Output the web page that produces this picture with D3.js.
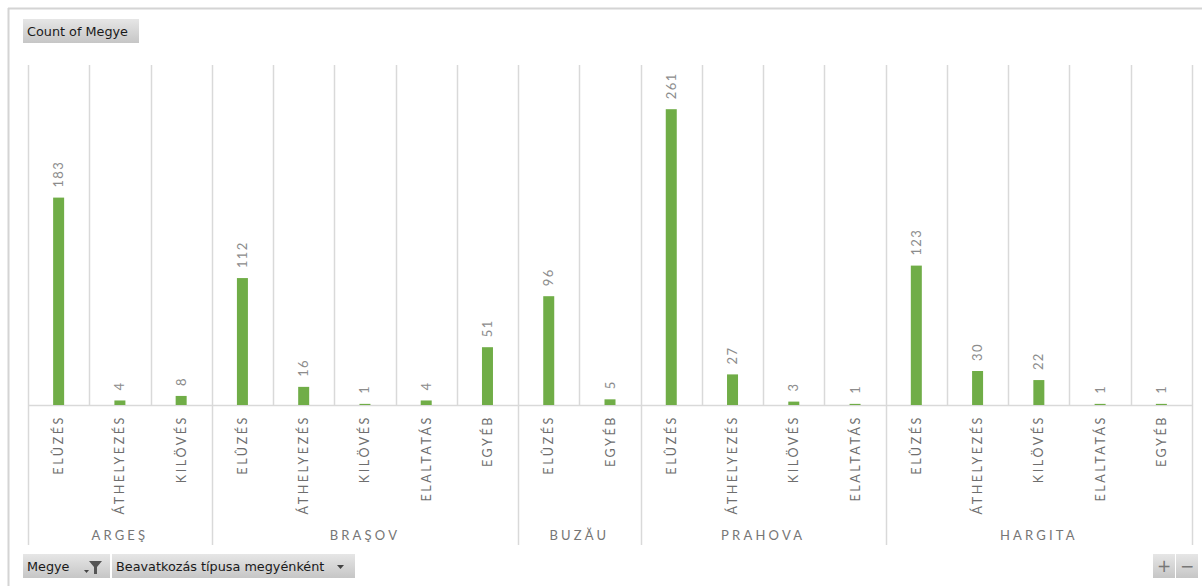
<!DOCTYPE html>
<html>
<head>
<meta charset="utf-8">
<script src="https://cdn.jsdelivr.net/npm/d3@7"></script>
<style>
  html, body { margin: 0; padding: 0; background: #fff; }
  svg { display: block; }
</style>
</head>
<body>
<svg id="chart"></svg>
<script>
// data
const groups = ["ARGEŞ", "BRAŞOV", "BUZĂU", "PRAHOVA", "HARGITA"];
const groupTypes = [
  ["ELÛZÉS", "ÁTHELYEZÉS", "KILÖVÉS"],
  ["ELÛZÉS", "ÁTHELYEZÉS", "KILÖVÉS", "ELALTATÁS", "EGYÉB"],
  ["ELÛZÉS", "EGYÉB"],
  ["ELÛZÉS", "ÁTHELYEZÉS", "KILÖVÉS", "ELALTATÁS"],
  ["ELÛZÉS", "ÁTHELYEZÉS", "KILÖVÉS", "ELALTATÁS", "EGYÉB"]
];
const groupCounts = [
  [183, 4, 8],
  [112, 16, 1, 4, 51],
  [96, 5],
  [261, 27, 3, 1],
  [123, 30, 22, 1, 1]
];
const yMax = 300;

const width = 1202, height = 586;
const plotLeft = 28, plotRight = 1192, plotTop = 65, baseY = 405, groupBottom = 545;
const gridColor = "#d9d9d9";
const barColor = "#70ad47";
const labelFont = "Lato, 'Open Sans', sans-serif";
const btnFont = "'DejaVu Sans', Verdana, sans-serif";

const svg = d3.select("#chart").attr("width", width).attr("height", height);

// flatten into rows
const rows = [];
groups.forEach((g, gi) => {
  groupTypes[gi].forEach((t, ti) => {
    rows.push({ id: gi + "-" + ti, group: g, type: t, value: groupCounts[gi][ti] });
  });
});

const x = d3.scaleBand().domain(rows.map(d => d.id)).range([plotLeft, plotRight]).paddingInner(0).paddingOuter(0);
const y = d3.scaleLinear().domain([0, yMax]).range([baseY, plotTop]);
const bw = x.bandwidth();
const barW = 11;

// outer frame
svg.append("line").attr("x1", 8).attr("x2", width).attr("y1", 8.5).attr("y2", 8.5)
  .attr("stroke", "#d4d4d4").attr("stroke-width", 2);
svg.append("line").attr("x1", 8.5).attr("x2", 8.5).attr("y1", 8).attr("y2", height)
  .attr("stroke", "#d4d4d4").attr("stroke-width", 2);

// vertical grid in plot area
const bounds = rows.map(d => x(d.id)).concat([plotRight]);
svg.append("g").selectAll("line").data(bounds).enter().append("line")
  .attr("x1", d => Math.round(d) + 0.5).attr("x2", d => Math.round(d) + 0.5)
  .attr("y1", plotTop).attr("y2", baseY)
  .attr("stroke", gridColor).attr("stroke-width", 1.5);

// group separators below axis
const groupStarts = [];
let k = 0;
groups.forEach((g, gi) => { groupStarts.push({ g, start: k, end: k + groupTypes[gi].length }); k += groupTypes[gi].length; });
const sepX = groupStarts.map(d => x(rows[d.start].id)).concat([plotRight]);
svg.append("g").selectAll("line").data(sepX).enter().append("line")
  .attr("x1", d => Math.round(d) + 0.5).attr("x2", d => Math.round(d) + 0.5)
  .attr("y1", baseY).attr("y2", groupBottom)
  .attr("stroke", gridColor).attr("stroke-width", 1.5);

// baseline
svg.append("line").attr("x1", plotLeft).attr("x2", plotRight).attr("y1", baseY + 0.5).attr("y2", baseY + 0.5)
  .attr("stroke", gridColor).attr("stroke-width", 1.5);

// bars
svg.append("g").selectAll("rect").data(rows).enter().append("rect")
  .attr("x", d => x(d.id) + bw / 2 - barW / 2)
  .attr("width", barW)
  .attr("y", d => y(d.value))
  .attr("height", d => Math.max(1, baseY - y(d.value)))
  .attr("fill", barColor);

// value labels
svg.append("g").selectAll("text").data(rows).enter().append("text")
  .attr("transform", d => `translate(${x(d.id) + bw / 2 + 4.5}, ${Math.min(y(d.value), baseY - 1) - 10}) rotate(-90)`)
  .attr("text-anchor", "start")
  .style("font-family", labelFont)
  .style("font-size", "13px")
  .style("letter-spacing", "1.4px")
  .style("fill", "#8c8c8c")
  .text(d => d.value);

// category labels
svg.append("g").selectAll("text").data(rows).enter().append("text")
  .attr("transform", d => `translate(${x(d.id) + bw / 2 + 4.5}, ${baseY + 10}) rotate(-90)`)
  .attr("text-anchor", "end")
  .style("font-family", labelFont)
  .style("font-size", "12.5px")
  .style("letter-spacing", "2.6px")
  .style("fill", "#6e6e6e")
  .text(d => d.type);

// group labels
svg.append("g").selectAll("text").data(groupStarts).enter().append("text")
  .attr("x", d => (x(rows[d.start].id) + (d.end < rows.length ? x(rows[d.end].id) : plotRight)) / 2)
  .attr("y", 540)
  .attr("text-anchor", "middle")
  .style("font-family", labelFont)
  .style("font-size", "13px")
  .style("letter-spacing", "3.2px")
  .style("fill", "#767676")
  .text(d => d.g);

// pivot field buttons
const defs = svg.append("defs");
const grad = defs.append("linearGradient").attr("id", "btnGrad").attr("x1", 0).attr("y1", 0).attr("x2", 0).attr("y2", 1);
grad.append("stop").attr("offset", "0%").attr("stop-color", "#e6e6e6");
grad.append("stop").attr("offset", "100%").attr("stop-color", "#c6c6c6");

function button(x0, y0, w, h, label) {
  const b = svg.append("g");
  b.append("rect").attr("x", x0).attr("y", y0).attr("width", w).attr("height", h).attr("fill", "url(#btnGrad)");
  if (label) {
    b.append("text").attr("x", x0 + 4).attr("y", y0 + h / 2 + 5)
      .style("font-family", btnFont)
      .style("font-size", "12.8px")
      .style("fill", "#1a1a1a")
      .text(label);
  }
  return b;
}

button(23, 19, 116, 24, "Count of Megye");

const megye = button(23, 554, 87, 24, "Megye");
// small dropdown arrow + funnel
megye.append("path").attr("d", "M84,570 l5,0 l-2.5,3 z").attr("fill", "#444");
megye.append("path").attr("d", "M89,561 l13,0 l-5,6 l0,7 l-3,0 l0,-7 z").attr("fill", "#555");

const beav = button(112, 554, 243, 24, "Beavatkozás típusa megyénként");
beav.append("path").attr("d", "M337,565 l7,0 l-3.5,4 z").attr("fill", "#444");

// zoom buttons
const plus = button(1153, 554, 22, 24, null);
plus.append("text").attr("x", 1164).attr("y", 572).attr("text-anchor", "middle")
  .style("font-family", btnFont).style("font-size", "17px").style("fill", "#777").text("+");
const minus = button(1176, 554, 22, 24, null);
minus.append("text").attr("x", 1187).attr("y", 572).attr("text-anchor", "middle")
  .style("font-family", btnFont).style("font-size", "17px").style("fill", "#777").text("−");
</script>
</body>
</html>
